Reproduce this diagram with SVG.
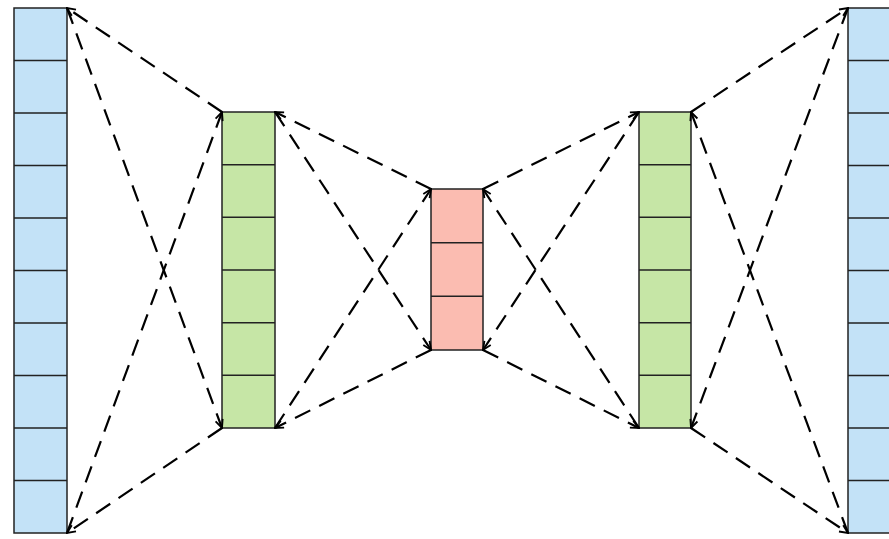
<svg xmlns="http://www.w3.org/2000/svg" width="889" height="539" viewBox="0 0 889 539">
<defs>
<style>
.blue{fill:#c3e2f7;stroke:#222;stroke-width:1.5}
.green{fill:#c6e6a6;stroke:#222;stroke-width:1.5}
.red{fill:#fbbcb1;stroke:#222;stroke-width:1.5}
.div{stroke:#222;stroke-width:1.5;fill:none}
.conn{stroke:#000;stroke-width:2.2;fill:none;stroke-dasharray:17 10;marker-end:url(#arr)}
</style>
<marker id="arr" viewBox="0 0 12 12" refX="11" refY="6" markerWidth="10" markerHeight="10" markerUnits="userSpaceOnUse" orient="auto">
<path d="M1,1.5 L11,6 L1,10.5" fill="none" stroke="#000" stroke-width="2.2"/>
</marker>
</defs>
<rect width="889" height="539" fill="#fff"/>
<g id="input">
<rect class="blue" x="14" y="8" width="53" height="525"/>
<path class="div" d="M14,60.5H67M14,113H67M14,165.5H67M14,218H67M14,270.5H67M14,323H67M14,375.5H67M14,428H67M14,480.5H67"/>
</g>
<g id="encoder">
<rect class="green" x="222" y="112" width="53" height="316"/>
<path class="div" d="M222,164.7H275M222,217.3H275M222,270H275M222,322.7H275M222,375.3H275"/>
</g>
<g id="code">
<rect class="red" x="431" y="189" width="52" height="161"/>
<path class="div" d="M431,242.7H483M431,296.3H483"/>
</g>
<g id="decoder">
<rect class="green" x="639" y="112" width="52" height="316"/>
<path class="div" d="M639,164.7H691M639,217.3H691M639,270H691M639,322.7H691M639,375.3H691"/>
</g>
<g id="output">
<rect class="blue" x="848" y="8" width="60" height="525"/>
<path class="div" d="M848,60.5H908M848,113H908M848,165.5H908M848,218H908M848,270.5H908M848,323H908M848,375.5H908M848,428H908M848,480.5H908"/>
</g>
<g id="connectors">
<line class="conn" x1="222" y1="112" x2="67" y2="8"/>
<line class="conn" x1="222" y1="428" x2="67" y2="533"/>
<line class="conn" x1="67" y1="533" x2="222" y2="112"/>
<line class="conn" x1="67" y1="8" x2="222" y2="428"/>
<line class="conn" x1="431" y1="189" x2="275" y2="112"/>
<line class="conn" x1="431" y1="350" x2="275" y2="428"/>
<line class="conn" x1="275" y1="428" x2="431" y2="189"/>
<line class="conn" x1="275" y1="112" x2="431" y2="350"/>
<line class="conn" x1="639" y1="428" x2="483" y2="189"/>
<line class="conn" x1="639" y1="112" x2="483" y2="350"/>
<line class="conn" x1="483" y1="189" x2="639" y2="112"/>
<line class="conn" x1="483" y1="350" x2="639" y2="428"/>
<line class="conn" x1="848" y1="533" x2="691" y2="112"/>
<line class="conn" x1="848" y1="8" x2="691" y2="428"/>
<line class="conn" x1="691" y1="112" x2="848" y2="8"/>
<line class="conn" x1="691" y1="428" x2="848" y2="533"/>
</g>
</svg>
